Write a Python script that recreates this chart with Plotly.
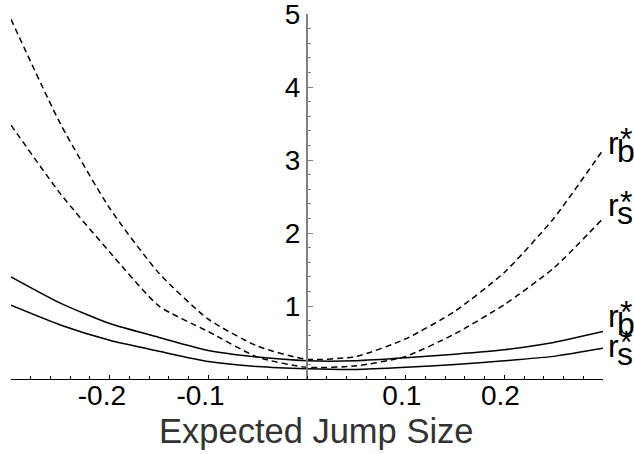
import plotly.graph_objects as go

# Data
x_vals = [-0.3, -0.25, -0.2, -0.15, -0.1, -0.05, 0.0, 0.05, 0.1, 0.15, 0.2, 0.25, 0.3]
rb_dashed = [4.93, 3.50, 2.34, 1.45, 0.82, 0.45, 0.27, 0.31, 0.55, 0.93, 1.46, 2.20, 3.14]
rs_dashed = [3.48, 2.54, 1.74, 1.00, 0.65, 0.30, 0.16, 0.18, 0.31, 0.62, 1.02, 1.52, 2.20]
rb_solid = [1.40, 1.04, 0.76, 0.57, 0.39, 0.30, 0.25, 0.25, 0.29, 0.34, 0.40, 0.50, 0.65]
rs_solid = [1.01, 0.74, 0.53, 0.38, 0.24, 0.17, 0.14, 0.13, 0.16, 0.20, 0.25, 0.31, 0.42]

x_ticks = [-0.2, -0.1, 0.1, 0.2]
x_tick_text = ["-0.2\u00a0\u00a0", "-0.1\u00a0\u00a0", "0.1\u00a0", "0.2\u00a0"]
y_ticks = [1, 2, 3, 4, 5]
y_tick_text = ["1", "2", "3", "4", "5"]
x_title = "Expected Jump Size"
series_subs = ["b", "s", "b", "s"]

FONT = "Arial, Liberation Sans, Helvetica, sans-serif"

fig = go.Figure()
for ys, dash in [(rb_dashed, "6px,4px"), (rs_dashed, "6px,4px"), (rb_solid, "solid"), (rs_solid, "solid")]:
    fig.add_trace(go.Scatter(
        x=x_vals, y=ys, mode="lines",
        line=dict(color="black", width=1.5, dash=dash, shape="spline", smoothing=0.6),
        showlegend=False, hoverinfo="skip", cliponaxis=False,
    ))

W, H = 634, 454
L, R, T, B = 11, 31, 14, 75
PH = H - T - B

fig.update_layout(
    width=W, height=H,
    margin=dict(l=L, r=R, t=T, b=B, pad=0, autoexpand=False),
    paper_bgcolor="white", plot_bgcolor="white",
    font=dict(family=FONT, color="black"),
    xaxis=dict(
        range=[-0.3, 0.3], showgrid=False, zeroline=False, automargin=False,
        showline=True, linecolor="black", linewidth=1,
        tickvals=x_ticks, ticktext=x_tick_text,
        ticks="inside", ticklen=4, tickwidth=1, tickcolor="black",
        tickfont=dict(size=28, color="black", family=FONT),
        ticklabelstandoff=-9,
        minor=dict(dtick=0.02, tick0=0, ticks="inside", ticklen=3, tickcolor="black", showgrid=False),
    ),
    yaxis=dict(
        range=[0, 5.002], showgrid=False, zeroline=False, automargin=False,
        anchor="free", position=0.5,
        showline=True, linecolor="#808080", linewidth=2,
        tickvals=y_ticks, ticktext=y_tick_text,
        ticks="inside", ticklen=5, tickwidth=1, tickcolor="#808080",
        tickfont=dict(size=28, color="black", family=FONT),
        ticklabeloverflow="allow",
        minor=dict(dtick=0.2, tick0=0, ticks="inside", ticklen=3, tickcolor="#808080", showgrid=False),
    ),
)

def py(p):
    return (H - B - p) / PH

def px(p):
    return (p - L) / (W - L - R)

# x-axis title
fig.add_annotation(x=px(316), y=py(431), xref="paper", yref="paper", text=x_title,
                   showarrow=False, xanchor="center", yanchor="middle",
                   font=dict(size=34.5, family=FONT, color="#333333"))

# curve labels r_b*, r_s*
label_mid = [145, 207.5, 318, 348]
for sub, m in zip(series_subs, label_mid):
    fig.add_annotation(x=px(607), y=py(m - 2.5), xref="paper", yref="paper", text="r",
                       showarrow=False, xanchor="left", yanchor="middle", borderpad=0,
                       font=dict(size=32, family=FONT, color="black"))
    fig.add_annotation(x=px(618.5), y=py(m - 6), xref="paper", yref="paper", text="*",
                       showarrow=False, xanchor="left", yanchor="middle", borderpad=0,
                       font=dict(size=32, family=FONT, color="black"))
    fig.add_annotation(x=px(615.5), y=py(m + 6), xref="paper", yref="paper", text=sub,
                       showarrow=False, xanchor="left", yanchor="middle", borderpad=0,
                       font=dict(size=32, family=FONT, color="black"))

fig.write_html("out.html")
